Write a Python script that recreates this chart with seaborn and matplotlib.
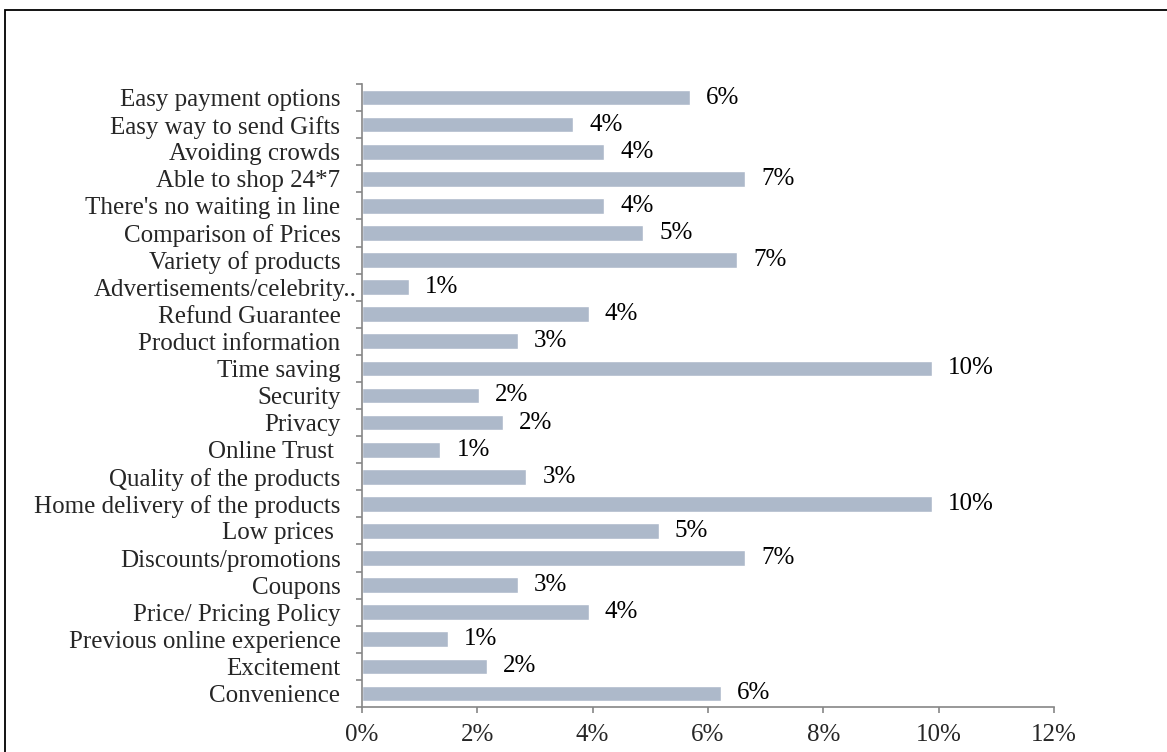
import matplotlib
matplotlib.use("Agg")
import matplotlib.pyplot as plt
from matplotlib.patches import Rectangle
from matplotlib.ticker import FixedLocator, FuncFormatter
from matplotlib.transforms import ScaledTranslation
import numpy as np
import pandas as pd
import seaborn as sns

# Reasons for shopping online, top to bottom as drawn
reasons = [
    "Easy payment options",
    "Easy way to send Gifts",
    "Avoiding crowds",
    "Able to shop 24*7",
    "There's no waiting in line",
    "Comparison of Prices",
    "Variety of products",
    "Advertisements/celebrity..",
    "Refund Guarantee",
    "Product information",
    "Time saving",
    "Security",
    "Privacy",
    "Online Trust ",
    "Quality of the products",
    "Home delivery of the products",
    "Low prices ",
    "Discounts/promotions",
    "Coupons",
    "Price/ Pricing Policy",
    "Previous online experience",
    "Excitement",
    "Convenience",
]

# Share of respondents (%)
shares = [
    5.69, 3.66, 4.20, 6.64, 4.20, 4.88, 6.51, 0.81, 3.93, 2.71, 9.89, 2.03,
    2.44, 1.36, 2.85, 9.89, 5.15, 6.64, 2.71, 3.93, 1.49, 2.17, 6.23,
]

x_ticks = [0, 2, 4, 6, 8, 10, 12]

df = pd.DataFrame({"reason": reasons, "share": shares})

sns.set_theme(style="white")
plt.rcParams["font.family"] = ["Liberation Serif", "DejaVu Serif"]
plt.rcParams["text.color"] = "black"

FS = 18
W, H, DPI = 1167, 752, 100
fig = plt.figure(figsize=(W / DPI, H / DPI), dpi=DPI)
ax = fig.add_axes([362 / W, 1 - 707 / H, (1054 - 362) / W, (707 - 84) / H])

sns.barplot(data=df, x="share", y="reason", order=reasons, color="#adb9ca",
            saturation=1, width=0.58, ax=ax, orient="h")

ax.set_xlim(0, 12)
ax.set_ylim(len(reasons) - 0.5, -0.5)
ax.set_xlabel("")
ax.set_ylabel("")

# value labels beside each bar
ax.bar_label(ax.containers[0], labels=[f"{v:.0f}%" for v in shares],
             padding=11.5, fontsize=FS, color="black")

# axis styling
spine_col = "#868686"
for side in ("top", "right"):
    ax.spines[side].set_visible(False)
for side in ("left", "bottom"):
    ax.spines[side].set_color(spine_col)
    ax.spines[side].set_linewidth(1.2)

ax.xaxis.set_major_locator(FixedLocator(x_ticks))
ax.xaxis.set_major_formatter(FuncFormatter(lambda v, _: f"{v:.0f}%"))
ax.tick_params(axis="x", which="major", direction="out", length=4.5, width=1.2,
               color=spine_col, labelsize=FS, pad=7.5, bottom=True)

ax.yaxis.set_minor_locator(FixedLocator(np.arange(-0.5, len(reasons), 1.0)))
ax.tick_params(axis="y", which="minor", direction="out", length=4.5, width=1.2,
               color=spine_col, left=True)
ax.tick_params(axis="y", which="major", length=0, labelsize=FS, pad=15.5)

# the truncated label runs past the others
fig.canvas.draw()
lbl = ax.get_yticklabels()[7]
lbl.set_transform(lbl.get_transform() + ScaledTranslation(16 / DPI, 0, fig.dpi_scale_trans))

# outer frame
fig.patches.append(Rectangle((5 / W, -0.1), 1.2, (1 - 10 / H) + 0.1,
                             transform=fig.transFigure, fill=False,
                             edgecolor="black", linewidth=1.3))

fig.savefig("out.png", dpi=DPI)
